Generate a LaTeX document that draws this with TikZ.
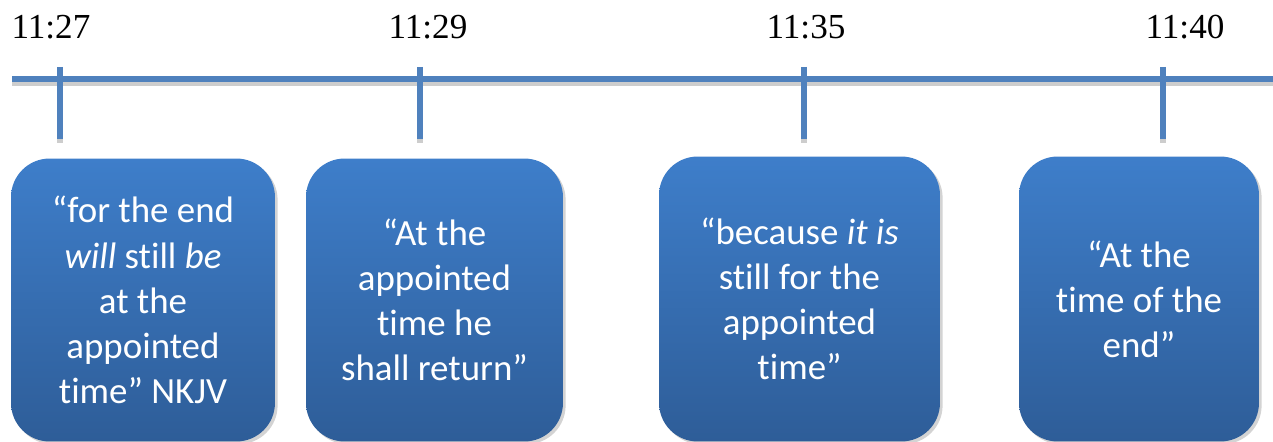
\documentclass[tikz,border=0pt]{standalone}
\usepackage{fontspec}
\setmainfont{Carlito}[Ligatures=NoCommon]
\newfontfamily\stampfont{Liberation Serif}
\usepackage{tikz}
\usetikzlibrary{
    positioning,
    shadows
}
\definecolor{lineBlue}{RGB}{79, 129, 189}
\definecolor{boxTop}{RGB}{62, 126, 202}
\definecolor{boxBottom}{RGB}{46, 93, 152}
\definecolor{lineShade}{RGB}{205, 205, 205}

\begin{document}
\begin{tikzpicture}[x=0.02cm, y=-0.02cm,
    stamp/.style={font=\stampfont\fontsize{20}{24}\selectfont, inner sep=0pt, anchor=base},
    axis/.style={line width=3.2pt, lineBlue},
    shade/.style={line width=3pt, lineShade},
    quote/.style={rounded corners=22pt, top color=boxTop, bottom color=boxBottom,
        text=white, align=center, inner sep=0pt,
        font=\fontsize{21}{25.7}\selectfont,
        drop shadow={shadow xshift=1.5pt, shadow yshift=-1.5pt, opacity=0.35}}]
        \useasboundingbox (0,0) rectangle (1273,442);

        % Time stamps
        \node[stamp] (t27) at (51,39) {11:27};
        \node[stamp] (t29) at (428,39) {11:29};
        \node[stamp] (t35) at (806,39) {11:35};
        \node[stamp] (t40) at (1185,39) {11:40};

        % Axis
        \coordinate (axisL) at (12,79);
        \coordinate (axisR) at (1273,79);
        \draw[shade] ([yshift=-2.4pt]axisL) -- ([yshift=-2.4pt]axisR);
        \draw[axis] (axisL) -- (axisR);

        % Ticks
        \coordinate (k27a) at (60,67);   \coordinate (k27b) at (60,139);
        \coordinate (k29a) at (420,67);  \coordinate (k29b) at (420,139);
        \coordinate (k35a) at (804,67);  \coordinate (k35b) at (804,139);
        \coordinate (k40a) at (1163,67); \coordinate (k40b) at (1163,139);
        \draw[shade] ([yshift=-2.4pt]k27a) -- ([yshift=-2.4pt]k27b);
        \draw[shade] ([yshift=-2.4pt]k29a) -- ([yshift=-2.4pt]k29b);
        \draw[shade] ([yshift=-2.4pt]k35a) -- ([yshift=-2.4pt]k35b);
        \draw[shade] ([yshift=-2.4pt]k40a) -- ([yshift=-2.4pt]k40b);
        \draw[axis, line width=3pt] (k27a) -- (k27b);
        \draw[axis, line width=3pt] (k29a) -- (k29b);
        \draw[axis, line width=3pt] (k35a) -- (k35b);
        \draw[axis, line width=3pt] (k40a) -- (k40b);

        % Quotes
        \node[quote, minimum width=5.28cm, minimum height=5.66cm] (q27) at (143,300)
            {“for the end\\\textit{will} still \textit{be}\\at the\\appointed\\time” NKJV};
        \node[quote, minimum width=5.14cm, minimum height=5.66cm] (q29) at (434.5,300)
            {“At the\\appointed\\time he\\shall return”};
        \node[quote, minimum width=5.62cm, minimum height=5.7cm] (q35) at (799.5,299)
            {“because \textit{it is}\\still for the\\appointed\\time”};
        \node[quote, minimum width=4.8cm, minimum height=5.7cm] (q40) at (1139,299)
            {“At the\\time of the\\end”};
\end{tikzpicture}
\end{document}
